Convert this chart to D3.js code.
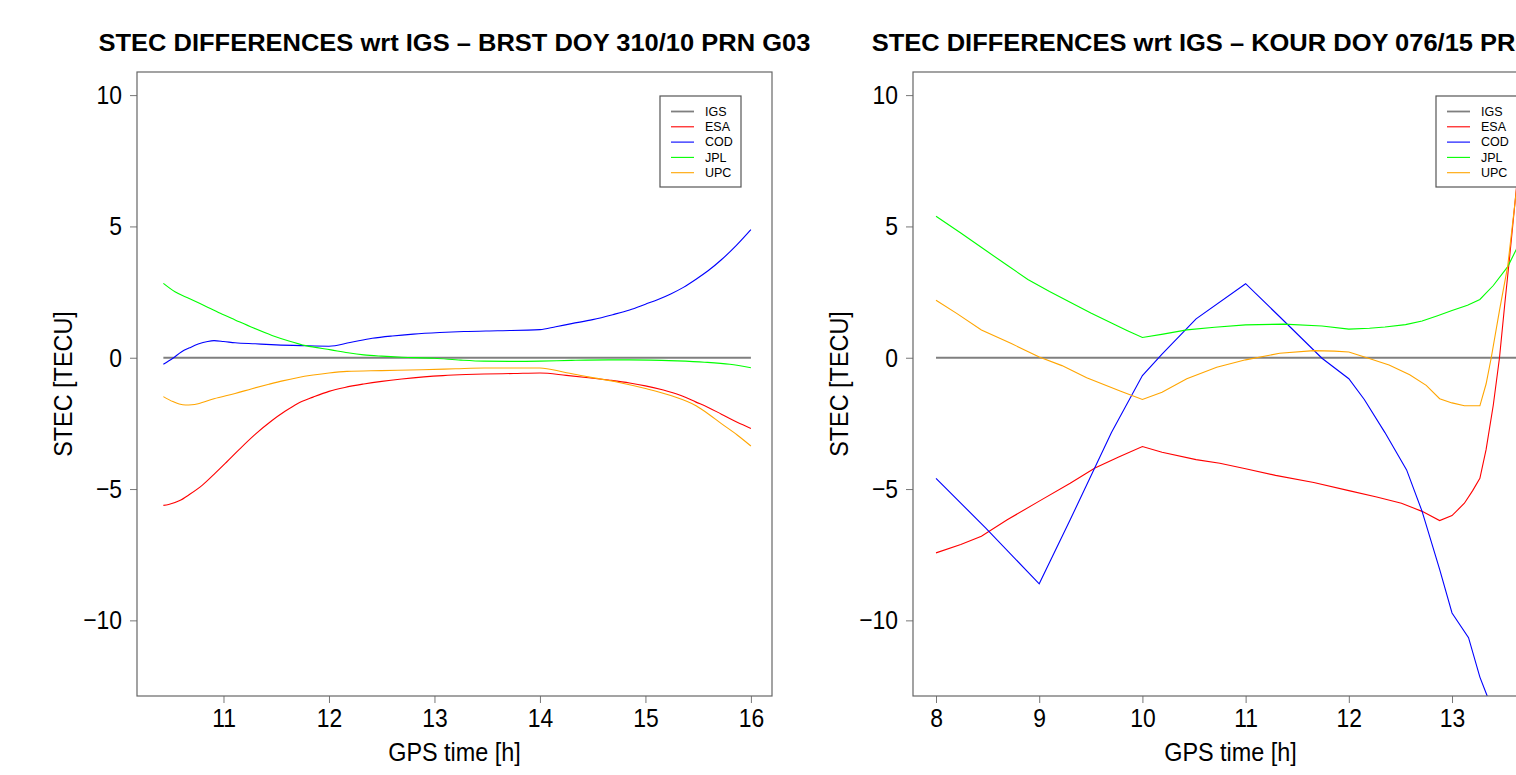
<!DOCTYPE html>
<html>
<head>
<meta charset="utf-8">
<script src="https://cdn.jsdelivr.net/npm/d3@7"></script>
<style>
  body { margin: 0; background: #fff; overflow: hidden; }
  svg { display: block; font-family: "Liberation Sans", Arial, Helvetica, sans-serif; }
</style>
</head>
<body>
<div id="chart"></div>
<script>
// analysis centres (legend order)
const centres = ["IGS", "ESA", "COD", "JPL", "UPC"];
const centreColors = ["#7f7f7f", "#ff0000", "#0000ff", "#00ff00", "#ffa500"];

// BRST DOY 310/10 PRN G03 : [GPS hour, STEC difference in TECU]
const brstIGS = [[10.43, 0], [16, 0]];
const brstESA = [[10.43,-5.62],[10.48,-5.59],[10.58,-5.45],[10.68,-5.2],[10.8,-4.85],[10.91,-4.44],[11.03,-3.97],[11.15,-3.49],[11.3,-2.92],[11.46,-2.39],[11.58,-2.05],[11.7,-1.75],[11.85,-1.5],[12.0,-1.28],[12.15,-1.13],[12.33,-1.0],[12.5,-0.9],[12.69,-0.81],[12.9,-0.73],[13.08,-0.68],[13.3,-0.64],[13.47,-0.62],[13.75,-0.6],[14.0,-0.58],[14.25,-0.67],[14.46,-0.76],[14.65,-0.85],[14.85,-0.96],[15.0,-1.07],[15.17,-1.23],[15.33,-1.43],[15.48,-1.69],[15.6,-1.9],[15.72,-2.15],[15.87,-2.46],[16,-2.69]];
const brstCOD = [[10.43,-0.25],[10.52,-0.02],[10.6,0.22],[10.68,0.38],[10.76,0.52],[10.85,0.62],[10.91,0.65],[11.0,0.62],[11.11,0.57],[11.3,0.53],[11.5,0.49],[11.75,0.46],[12.0,0.44],[12.2,0.58],[12.41,0.74],[12.6,0.83],[12.8,0.9],[13.05,0.96],[13.28,1.0],[13.6,1.03],[14.0,1.07],[14.15,1.18],[14.3,1.3],[14.5,1.45],[14.69,1.64],[14.85,1.82],[15.0,2.04],[15.12,2.22],[15.24,2.43],[15.36,2.68],[15.48,2.99],[15.6,3.33],[15.72,3.73],[15.86,4.27],[16,4.88]];
const brstJPL = [[10.43,2.83],[10.54,2.51],[10.68,2.25],[10.83,1.96],[10.97,1.69],[11.11,1.44],[11.28,1.14],[11.46,0.85],[11.62,0.64],[11.78,0.46],[12.02,0.30],[12.18,0.19],[12.33,0.11],[12.5,0.06],[12.69,0.02],[13.0,-0.02],[13.25,-0.09],[13.47,-0.13],[13.75,-0.14],[14.0,-0.13],[14.3,-0.1],[14.65,-0.08],[15.05,-0.09],[15.3,-0.12],[15.56,-0.17],[15.8,-0.25],[16,-0.38]];
const brstUPC = [[10.43,-1.48],[10.52,-1.67],[10.58,-1.76],[10.64,-1.8],[10.7,-1.79],[10.76,-1.75],[10.91,-1.56],[11.11,-1.36],[11.27,-1.18],[11.43,-1.01],[11.56,-0.88],[11.7,-0.76],[11.85,-0.66],[12.0,-0.58],[12.17,-0.52],[12.5,-0.49],[12.88,-0.46],[13.2,-0.42],[13.47,-0.39],[13.75,-0.39],[14.0,-0.39],[14.23,-0.55],[14.46,-0.73],[14.75,-0.94],[15.0,-1.17],[15.24,-1.44],[15.48,-1.83],[15.6,-2.15],[15.72,-2.51],[15.87,-2.94],[16,-3.36]];

// KOUR DOY 076/15 : [GPS hour, STEC difference in TECU]
const kourIGS = [[8, 0], [13.9, 0]];
const kourESA = [[8.0,-7.43],[8.24,-7.11],[8.44,-6.8],[8.69,-6.17],[9.0,-5.46],[9.3,-4.78],[9.54,-4.2],[9.77,-3.78],[10.0,-3.38],[10.19,-3.6],[10.52,-3.88],[10.75,-4.02],[11.0,-4.23],[11.29,-4.48],[11.66,-4.75],[12.0,-5.06],[12.27,-5.3],[12.51,-5.54],[12.71,-5.85],[12.88,-6.2],[13.0,-6.01],[13.12,-5.54],[13.2,-5.06],[13.27,-4.59],[13.33,-3.5],[13.4,-1.8],[13.46,0],[13.51,2.0],[13.56,3.9],[13.61,5.9],[13.7,9.5]];
const kourCOD = [[8.0,-4.59],[8.48,-6.48],[9.0,-8.61],[9.3,-6.17],[9.7,-2.85],[10.0,-0.68],[10.19,0.14],[10.52,1.48],[11.0,2.82],[11.33,1.56],[11.74,-0.02],[12.0,-0.8],[12.15,-1.59],[12.35,-2.85],[12.56,-4.27],[12.71,-5.85],[12.88,-8.06],[13.0,-9.72],[13.16,-10.66],[13.27,-12.16],[13.34,-12.87],[13.45,-14.5]];
const kourJPL = [[8.0,5.39],[8.24,4.75],[8.48,4.09],[8.69,3.52],[8.89,2.98],[9.1,2.52],[9.3,2.11],[9.5,1.7],[9.7,1.32],[9.85,1.04],[10.0,0.77],[10.2,0.9],[10.43,1.06],[10.7,1.16],[11.0,1.25],[11.37,1.28],[11.74,1.21],[12.0,1.09],[12.2,1.12],[12.35,1.17],[12.55,1.26],[12.71,1.4],[12.86,1.6],[13.0,1.8],[13.15,2.0],[13.27,2.22],[13.4,2.75],[13.54,3.47],[13.62,4.1],[13.8,6]];
const kourUPC = [[8.0,2.19],[8.2,1.69],[8.44,1.06],[8.73,0.54],[9.0,0.03],[9.22,-0.3],[9.46,-0.76],[9.79,-1.28],[10.0,-1.59],[10.19,-1.31],[10.43,-0.8],[10.72,-0.36],[11.0,-0.08],[11.33,0.17],[11.66,0.27],[11.86,0.25],[12.0,0.22],[12.19,-0.02],[12.39,-0.28],[12.59,-0.65],[12.75,-1.05],[12.88,-1.56],[13.0,-1.72],[13.12,-1.83],[13.27,-1.83],[13.33,-1.0],[13.38,0],[13.46,1.8],[13.54,3.5],[13.61,5.9],[13.7,9]];

// axis ticks
const yTicks = [-10, -5, 0, 5, 10];
const brstTicks = [11, 12, 13, 14, 15, 16];
const kourTicks = [8, 9, 10, 11, 12, 13];

const titles = [
  "STEC DIFFERENCES wrt IGS \u2013 BRST DOY 310/10 PRN G03",
  "STEC DIFFERENCES wrt IGS \u2013 KOUR DOY 076/15 PRN G03"
];

const W = 1516, H = 775;
// the R device text is a bit narrower than Liberation Sans
const squeeze = 0.88;

const svg = d3.select("#chart").append("svg")
    .attr("width", W)
    .attr("height", H);

// plot boxes (the right panel runs past the window edge, as in the reference)
let panels = [
  {box: [137, 72, 772, 696], xDom: [10.18, 16.2], ticks: brstTicks, title: titles[0],
   series: [brstIGS, brstESA, brstCOD, brstJPL, brstUPC], curve: d3.curveMonotoneX},
  {box: [913, 72, 1548, 696], xDom: [7.777, 13.93], ticks: kourTicks, title: titles[1],
   series: [kourIGS, kourESA, kourCOD, kourJPL, kourUPC], curve: d3.curveLinear}
];

let titleRatio = 1;

panels.forEach(function(p, pi){
    let [x0, y0, x1, y1] = p.box;
    let x = d3.scaleLinear().domain(p.xDom).range([x0, x1]);
    let y = d3.scaleLinear().domain([-12.88, 10.88]).range([y1, y0]);

    let g = svg.append("g");

    // clip for the curves
    g.append("clipPath").attr("id", "clip" + pi)
      .append("rect")
        .attr("x", x0).attr("y", y0)
        .attr("width", x1 - x0).attr("height", y1 - y0);

    // x axis
    let xaxis = g.append("g")
        .attr("transform", "translate(0," + y1 + ")")
        .call(d3.axisBottom(x).tickValues(p.ticks).tickFormat(d3.format("d")).tickSize(7).tickPadding(6));
    xaxis.select(".domain").remove();
    xaxis.selectAll(".tick line").attr("stroke", "#777");
    xaxis.selectAll(".tick text")
        .attr("font-size", 26)
        .attr("fill", "#000")
        .attr("font-family", null)
        .attr("transform", "scale(" + squeeze + ",1)");

    // y axis
    let yaxis = g.append("g")
        .attr("transform", "translate(" + x0 + ",0)")
        .call(d3.axisLeft(y).tickValues(yTicks).tickSize(7).tickPadding(10));
    yaxis.select(".domain").remove();
    yaxis.selectAll(".tick line").attr("stroke", "#777");
    yaxis.selectAll(".tick text")
        .attr("font-size", 26)
        .attr("fill", "#000")
        .attr("font-family", null)
        .attr("transform", "scale(" + squeeze + ",1)");

    // axis labels
    g.append("text")
        .attr("transform", "translate(" + ((x0 + x1) / 2) + ",761) scale(0.9,1)")
        .attr("text-anchor", "middle")
        .attr("font-size", 26)
        .text("GPS time [h]");
    g.append("text")
        .attr("transform", "translate(" + (x0 - 65) + "," + ((y0 + y1) / 2) + ") rotate(-90) scale(0.9,1)")
        .attr("text-anchor", "middle")
        .attr("font-size", 26)
        .text("STEC [TECU]");

    // curves
    let line = d3.line()
        .x(function(d){ return x(d[0]); })
        .y(function(d){ return y(d[1]); })
        .curve(p.curve);
    g.append("g")
        .attr("clip-path", "url(#clip" + pi + ")")
        .selectAll("path")
        .data(p.series)
        .enter().append("path")
          .attr("d", line)
          .attr("fill", "none")
          .attr("stroke", function(d, i){ return centreColors[i]; })
          .attr("stroke-width", function(d, i){ return i == 0 ? 1.8 : 1.1; });

    // box
    g.append("rect")
        .attr("x", x0).attr("y", y0)
        .attr("width", x1 - x0).attr("height", y1 - y0)
        .attr("fill", "none")
        .attr("stroke", "#666")
        .attr("stroke-width", 1.2);

    // legend, top right inside the box
    let lx = x1 - 112, ly = 96;
    let leg = g.append("g").attr("transform", "translate(" + lx + "," + ly + ")");
    leg.append("rect")
        .attr("width", 81).attr("height", 91)
        .attr("fill", "#fff")
        .attr("stroke", "#555")
        .attr("stroke-width", 1.2);
    let rows = leg.selectAll("g.row")
        .data(centres)
        .enter().append("g")
          .attr("class", "row")
          .attr("transform", function(d, i){ return "translate(0," + (15.5 + i * 15.3) + ")"; });
    rows.append("line")
        .attr("x1", 11).attr("x2", 34)
        .attr("stroke", function(d, i){ return centreColors[i]; })
        .attr("stroke-width", function(d, i){ return i == 0 ? 1.8 : 1.1; });
    rows.append("text")
        .attr("x", 45)
        .attr("dy", "0.35em")
        .attr("font-size", 12.5)
        .text(function(d){ return d; });

    // title, squeezed to the reference width
    let t = g.append("text")
        .attr("font-size", 24)
        .attr("font-weight", "bold")
        .text(p.title);
    if (pi == 0) {
        let natural = t.node().getComputedTextLength();
        titleRatio = 712 / natural;
    }
    let tw = t.node().getComputedTextLength() * titleRatio;
    t.attr("transform", "translate(" + ((x0 + x1) / 2 - tw / 2) + ",51) scale(" + titleRatio + ",1)");
});
</script>
</body>
</html>
